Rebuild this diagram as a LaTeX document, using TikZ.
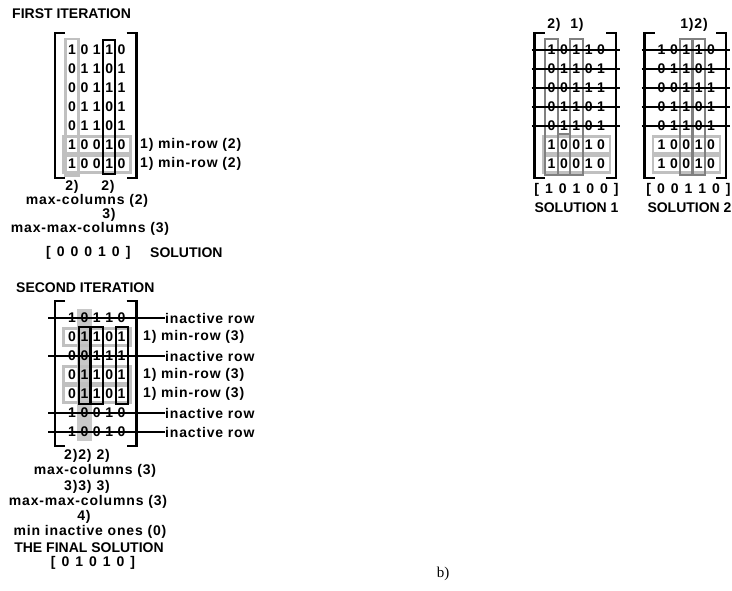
\documentclass[tikz,border=0pt]{standalone}
\usepackage{fontspec}
\setmainfont{Liberation Sans}
\newfontfamily\serifrm{Liberation Serif}
\usetikzlibrary{fit}
\pgfdeclarelayer{background}
\pgfsetlayers{background,main}
\definecolor{boxgray}{HTML}{C0C0C0}
\definecolor{fillgray}{HTML}{C8C8C8}
\definecolor{colgray}{HTML}{808080}
\newcommand\vecfont{\fontsize{14}{16}\selectfont\bfseries\spaceskip6pt\relax}
\newcommand\lblfont{\fontsize{14}{16}\selectfont\bfseries\addfontfeature{LetterSpace=6}}

\begin{document}
\begin{tikzpicture}[x=1pt, y=-1pt,
    digit/.style={inner sep=0pt, minimum width=12.4pt, minimum height=19pt,
        font=\fontsize{14}{16}\selectfont\bfseries},
    head/.style={inner sep=0pt, font=\fontsize{14}{16}\selectfont\bfseries},
    lbl/.style={inner sep=0pt, font=\lblfont},
    vec/.style={inner sep=0pt, font=\vecfont},
    bracket/.style={line width=2.6pt},
    strike/.style={line width=1.2pt},
    graybox/.style={draw=boxgray, line width=2.6pt, inner xsep=0.3pt, inner ysep=1.5pt},
    rowbox/.style={draw=boxgray, line width=2.6pt, inner xsep=2.3pt, inner ysep=-1pt},
    blackbox/.style={draw, line width=2pt, inner xsep=-0.5pt, inner ysep=0pt},
    darkbox/.style={draw=colgray, line width=2pt, inner xsep=0pt, inner ysep=1.5pt},
    shade/.style={fill=fillgray, inner xsep=0.8pt, inner ysep=-0.5pt}]

    \useasboundingbox (0,0) rectangle (732,590);

    % 1. the four matrices (same rows in each) and their brackets
    \foreach \m/\ox/\oy in {A/72/50, B/72/318, C/551.5/50, D/661.5/50} {
        \foreach \row [count=\i] in {{1,0,1,1,0},{0,1,1,0,1},{0,0,1,1,1},{0,1,1,0,1},
                                     {0,1,1,0,1},{1,0,0,1,0},{1,0,0,1,0}} {
            \foreach \d [count=\j] in \row {
                \node[digit] (\m-\i-\j) at ({\ox+12.4*(\j-1)},{\oy+19*(\i-1)}) {\d};
            }
        }
        \draw[bracket] ({\ox-7},{\oy-17}) -| ({\ox-17},{\oy+128}) -- ({\ox-7},{\oy+128});
        \draw[bracket] ({\ox+54.6},{\oy-17}) -| ({\ox+64.6},{\oy+128}) -- ({\ox+54.6},{\oy+128});
    }

    % 2. boxes round rows and columns
    \begin{pgfonlayer}{background}
        % first iteration
        \node[graybox, fit=(A-1-1)(A-7-1)] (A-col1) {};
        \node[rowbox, fit=(A-6-1)(A-6-5)] (A-row6) {};
        \node[rowbox, fit=(A-7-1)(A-7-5)] (A-row7) {};
        \node[blackbox, fit=(A-1-4)(A-7-4)] (A-col4) {};
        % second iteration
        \node[shade, fit=(B-1-2)(B-7-2)] (B-col2) {};
        \node[rowbox, fit=(B-2-1)(B-2-5)] (B-row2) {};
        \node[rowbox, fit=(B-4-1)(B-4-5)] (B-row4) {};
        \node[rowbox, fit=(B-5-1)(B-5-5)] (B-row5) {};
        \node[blackbox, fit=(B-2-2)(B-5-2)] (B-max2) {};
        \node[blackbox, fit=(B-2-3)(B-5-3)] (B-max3) {};
        \node[blackbox, fit=(B-2-5)(B-5-5)] (B-max5) {};
        % solution 1 and solution 2
        \node[rowbox, fit=(C-6-1)(C-6-5)] (C-row6) {};
        \node[rowbox, fit=(C-7-1)(C-7-5)] (C-row7) {};
        \node[darkbox, fit=(C-1-1)(C-7-1)] (C-col1) {};
        \node[darkbox, fit=(C-6-2)(C-7-2)] (C-col2) {};
        \node[darkbox, fit=(C-1-3)(C-7-3)] (C-col3) {};
        \node[rowbox, fit=(D-6-1)(D-6-5)] (D-row6) {};
        \node[rowbox, fit=(D-7-1)(D-7-5)] (D-row7) {};
        \node[darkbox, fit=(D-1-3)(D-7-3)] (D-col3) {};
        \node[darkbox, fit=(D-1-4)(D-7-4)] (D-col4) {};
    \end{pgfonlayer}

    % 3. first iteration texts
    \node[head, anchor=west] (title1) at (12,14) {FIRST ITERATION};
    \node[lbl, anchor=west] (minA6) at (140,145) {1) min-row (2)};
    \node[lbl, anchor=west] (minA7) at (140,164) {1) min-row (2)};
    \node[lbl] (stepA1) at (72,187) {2)};
    \node[lbl] (stepA4) at (108,187) {2)};
    \node[lbl] (maxcolA) at (87,201) {max-columns (2)};
    \node[lbl] (stepA3) at (109,215) {3)};
    \node[lbl] (maxmaxA) at (90,229) {max-max-columns (3)};
    \node[vec, anchor=west] (solA) at (46,253) {[ 0 0 0 1 0 ]};
    \node[head, anchor=west] (solAtxt) at (150,253) {SOLUTION};

    % 4. second iteration: inactive rows struck through
    \node[head, anchor=west] (title2) at (16,288) {SECOND ITERATION};
    \foreach \i in {1,3,6,7} {
        \node[lbl, anchor=west] (inact\i) at (165,{318+19*(\i-1)}) {inactive row};
        \draw[strike] (B-\i-1.center) ++(-24,0) -- (inact\i.west);
    }
    \foreach \i in {2,4,5}
        \node[lbl, anchor=west] (minB\i) at (143,{318+19*(\i-1)}) {1) min-row (3)};
    \node[lbl] (stepB2) at (87,456) {2)2)\hspace{5pt}2)};
    \node[lbl] (maxcolB) at (95,471) {max-columns (3)};
    \node[lbl] (stepB3) at (87,487) {3)3)\hspace{5pt}3)};
    \node[lbl] (maxmaxB) at (88,502) {max-max-columns (3)};
    \node[lbl] (stepB4) at (84,517) {4)};
    \node[lbl] (minin) at (90,532) {min inactive ones (0)};
    \node[head] (final) at (89,548) {THE FINAL SOLUTION};
    \node[vec] (solB) at (93,563) {[ 0 1 0 1 0 ]};

    % 5. the two solutions on the right
    \foreach \m in {C,D}
        \foreach \i in {1,...,5}
            \draw[strike] (\m-\i-1.center) ++(-20,0) -- ([xshift=19pt]\m-\i-5.center);
    \node[lbl] (stepC2) at (554,25) {2)};
    \node[lbl] (stepC1) at (577,25) {1)};
    \node[lbl] (stepD) at (694,25) {1)2)};
    \node[vec] (solC) at (576.5,190) {[ 1 0 1 0 0 ]};
    \node[head] (solCtxt) at (576.5,208) {SOLUTION 1};
    \node[vec] (solD) at (688.5,190) {[ 0 0 1 1 0 ]};
    \node[head] (solDtxt) at (689.5,208) {SOLUTION 2};

    \node[inner sep=0pt, font=\serifrm\fontsize{15}{17}\selectfont] (partb) at (443,574) {b)};

\end{tikzpicture}
\end{document}
